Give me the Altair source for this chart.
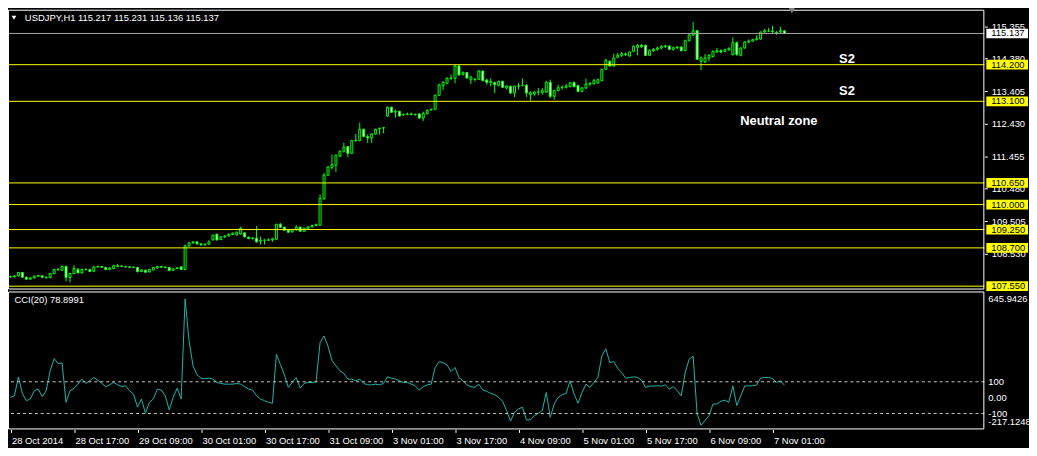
import altair as alt
import pandas as pd

SYMBOL = "USDJPY,H1"

OPEN = [107.84, 107.83, 107.86, 107.96, 107.82, 107.76, 107.80, 107.85, 107.86, 107.82,
        107.81, 107.93, 108.05, 108.03, 108.14, 107.81, 107.93, 108.05, 107.95, 108.05,
        108.05, 108.00, 108.13, 108.14, 108.11, 108.05, 108.08, 108.16, 108.14, 108.14,
        108.13, 108.12, 108.11, 107.99, 108.03, 107.98, 108.04, 108.10, 108.14, 108.12,
        108.11, 108.03, 108.08, 108.13, 108.05, 108.76, 108.85, 108.88, 108.82, 108.79,
        108.81, 108.94, 109.11, 108.95, 109.03, 109.06, 109.10, 109.09, 109.12, 109.15,
        109.02, 108.98, 108.99, 108.90, 108.93, 108.93, 108.94, 108.96, 109.41, 109.32,
        109.23, 109.18, 109.24, 109.32, 109.20, 109.29, 109.33, 109.37, 109.38, 110.17,
        110.88, 111.12, 111.18, 111.46, 111.60, 111.74, 111.54, 111.92, 111.92, 112.26,
        112.04, 112.00, 112.12, 112.28, 112.30, 112.66, 112.92, 112.78, 112.80, 112.70,
        112.71, 112.72, 112.71, 112.72, 112.60, 112.73, 112.84, 112.86, 113.28, 113.57,
        113.64, 113.79, 113.79, 114.16, 113.91, 113.96, 113.75, 113.75, 113.76, 114.01,
        113.74, 113.66, 113.66, 113.58, 113.70, 113.50, 113.55, 113.35, 113.55, 113.58,
        113.58, 113.30, 113.32, 113.38, 113.36, 113.38, 113.67, 113.25, 113.42, 113.51,
        113.52, 113.54, 113.66, 113.57, 113.40, 113.50, 113.62, 113.63, 113.65, 113.72,
        114.06, 114.30, 114.16, 114.42, 114.48, 114.52, 114.46, 114.60, 114.72, 114.78,
        114.78, 114.48, 114.62, 114.66, 114.70, 114.75, 114.76, 114.66, 114.71, 114.73,
        114.63, 114.92, 115.09, 115.22, 114.30, 114.28, 114.40, 114.44, 114.58, 114.62,
        114.60, 114.65, 114.50, 114.86, 114.48, 114.70, 114.88, 114.91, 114.95, 114.97,
        115.18, 115.21, 115.21, 115.17, 115.19, 115.217]

HIGH = [107.86, 107.88, 107.98, 107.98, 107.84, 107.82, 107.87, 107.89, 107.88, 107.84,
        107.95, 108.07, 108.10, 108.17, 108.17, 107.95, 108.18, 108.10, 108.08, 108.09,
        108.07, 108.15, 108.17, 108.16, 108.13, 108.12, 108.19, 108.22, 108.18, 108.16,
        108.15, 108.14, 108.13, 108.06, 108.05, 108.07, 108.13, 108.16, 108.16, 108.15,
        108.13, 108.09, 108.12, 108.15, 108.80, 108.88, 108.90, 108.90, 108.84, 108.83,
        108.93, 109.10, 109.13, 109.05, 109.08, 109.13, 109.16, 109.19, 109.34, 109.17,
        109.04, 109.02, 109.35, 109.04, 108.96, 108.99, 109.00, 109.42, 109.45, 109.34,
        109.25, 109.27, 109.38, 109.35, 109.31, 109.36, 109.40, 109.43, 110.30, 110.95,
        111.15, 111.50, 111.50, 111.62, 111.86, 111.76, 111.94, 112.12, 112.46, 112.28,
        112.10, 112.14, 112.28, 112.31, 112.33, 112.95, 112.94, 112.86, 112.82, 112.73,
        112.76, 112.76, 112.73, 112.74, 112.79, 112.86, 112.88, 113.30, 113.63, 113.70,
        113.82, 113.90, 114.20, 114.20, 114.00, 113.98, 113.86, 113.80, 114.04, 114.03,
        113.78, 113.79, 113.69, 113.72, 113.72, 113.58, 113.57, 113.57, 113.65, 113.78,
        113.62, 113.40, 113.40, 113.50, 113.50, 113.72, 113.75, 113.45, 113.60, 113.58,
        113.62, 113.68, 113.70, 113.60, 113.53, 113.78, 113.68, 113.78, 113.78, 114.08,
        114.38, 114.33, 114.53, 114.55, 114.58, 114.57, 114.60, 114.78, 114.82, 114.82,
        114.80, 114.66, 114.70, 114.74, 114.78, 114.80, 114.78, 114.74, 114.76, 114.75,
        114.95, 115.12, 115.48, 115.24, 114.45, 114.52, 114.52, 114.63, 114.70, 114.66,
        114.68, 114.72, 115.02, 114.90, 114.72, 114.91, 114.96, 114.98, 115.08, 115.20,
        115.27, 115.30, 115.37, 115.21, 115.34, 115.231]

LOW = [107.80, 107.81, 107.84, 107.80, 107.74, 107.74, 107.78, 107.83, 107.80, 107.77,
       107.79, 107.91, 108.01, 108.01, 107.70, 107.66, 107.91, 107.93, 107.93, 108.02,
       107.97, 107.98, 108.11, 108.10, 108.03, 108.03, 108.06, 108.12, 108.12, 108.11,
       108.10, 108.09, 107.96, 107.97, 107.95, 107.96, 108.02, 108.08, 108.10, 108.09,
       108.00, 108.01, 108.06, 108.03, 108.03, 108.74, 108.83, 108.80, 108.77, 108.77,
       108.79, 108.92, 108.92, 108.93, 109.00, 109.04, 109.08, 109.07, 109.10, 109.01,
       108.96, 108.95, 108.86, 108.80, 108.80, 108.90, 108.88, 108.94, 109.30, 109.21,
       109.15, 109.16, 109.22, 109.18, 109.18, 109.27, 109.31, 109.35, 109.36, 110.15,
       110.86, 111.05, 110.98, 111.42, 111.56, 111.43, 111.52, 111.88, 111.90, 112.02,
       111.85, 111.85, 112.10, 112.10, 112.14, 112.63, 112.75, 112.61, 112.64, 112.66,
       112.68, 112.68, 112.67, 112.56, 112.51, 112.70, 112.82, 112.84, 113.26, 113.44,
       113.62, 113.74, 113.64, 113.87, 113.87, 113.78, 113.62, 113.70, 113.74, 113.70,
       113.60, 113.55, 113.35, 113.55, 113.50, 113.46, 113.32, 113.22, 113.45, 113.55,
       113.23, 113.12, 113.27, 113.28, 113.30, 113.35, 113.20, 113.15, 113.40, 113.45,
       113.48, 113.52, 113.52, 113.37, 113.37, 113.47, 113.55, 113.60, 113.63, 113.70,
       114.04, 114.14, 114.14, 114.40, 114.43, 114.46, 114.44, 114.58, 114.48, 114.70,
       114.46, 114.46, 114.58, 114.62, 114.66, 114.70, 114.64, 114.62, 114.67, 114.60,
       114.60, 114.90, 115.05, 114.34, 114.04, 114.25, 114.30, 114.42, 114.55, 114.55,
       114.57, 114.62, 114.48, 114.47, 114.45, 114.68, 114.84, 114.89, 114.93, 114.95,
       115.16, 115.18, 115.15, 115.10, 115.15, 115.136]

CLOSE = [107.83, 107.86, 107.96, 107.82, 107.76, 107.80, 107.85, 107.87, 107.82, 107.81,
         107.93, 108.05, 108.05, 108.14, 107.81, 107.93, 108.08, 107.95, 108.05, 108.05,
         107.99, 108.13, 108.14, 108.12, 108.05, 108.10, 108.17, 108.14, 108.15, 108.13,
         108.12, 108.11, 107.99, 108.04, 107.97, 108.05, 108.11, 108.14, 108.12, 108.11,
         108.02, 108.07, 108.10, 108.05, 108.76, 108.85, 108.88, 108.82, 108.79, 108.81,
         108.88, 109.08, 108.94, 109.03, 109.06, 109.11, 109.14, 109.17, 109.29, 109.03,
         108.98, 109.00, 108.88, 108.93, 108.93, 108.94, 108.97, 109.41, 109.32, 109.23,
         109.17, 109.25, 109.32, 109.20, 109.29, 109.33, 109.37, 109.40, 110.18, 110.88,
         111.13, 111.20, 111.48, 111.60, 111.72, 111.54, 111.92, 111.93, 112.26, 112.04,
         112.00, 112.12, 112.26, 112.29, 112.31, 112.92, 112.77, 112.80, 112.66, 112.71,
         112.72, 112.71, 112.70, 112.60, 112.74, 112.82, 112.86, 113.28, 113.59, 113.67,
         113.79, 113.80, 114.16, 113.89, 113.96, 113.80, 113.83, 113.76, 114.01, 113.72,
         113.67, 113.70, 113.60, 113.70, 113.52, 113.56, 113.35, 113.55, 113.57, 113.58,
         113.35, 113.36, 113.38, 113.38, 113.42, 113.67, 113.25, 113.42, 113.51, 113.52,
         113.56, 113.66, 113.54, 113.40, 113.50, 113.62, 113.64, 113.72, 113.75, 114.06,
         114.33, 114.16, 114.40, 114.48, 114.53, 114.50, 114.58, 114.75, 114.78, 114.74,
         114.48, 114.62, 114.66, 114.70, 114.75, 114.76, 114.66, 114.71, 114.73, 114.62,
         114.92, 115.09, 115.22, 114.36, 114.40, 114.40, 114.48, 114.60, 114.62, 114.58,
         114.65, 114.69, 114.86, 114.50, 114.70, 114.88, 114.91, 114.95, 114.99, 115.18,
         115.22, 115.21, 115.19, 115.16, 115.22, 115.137]

CCI = [2, 12, 131, 27, -19, -8, 44, 54, 6, 44,
       169, 246, 215, 219, -29, 44, 58, 85, 117, 90,
       106, 127, 110, 90, 69, 81, 96, 81, 69, 75,
       44, 23, -60, -8, -98, -29, -8, 54, 48, 12,
       -77, 2, 60, -8, 621, 356, 200, 144, 123, 119,
       123, 117, 96, 90, 85, 85, 85, 90, 85, 69,
       54, 48, 12, -8, -19, -29, -35, 273, 210, 144,
       65, 96, 127, 60, 90, 96, 96, 100, 346, 388,
       325, 235, 200, 169, 152, 117, 117, 106, 117, 90,
       81, 81, 85, 81, 90, 131, 123, 117, 106, 96,
       96, 85, 75, 48, 69, 81, 85, 190, 227, 221,
       206, 165, 190, 127, 106, 81, 69, 65, 85, 48,
       40, 27, 19, 2, -23, -81, -148, -92, -71, -60,
       -140, -140, -113, -98, -81, 33, -123, -40, 2, 19,
       27, 106, 23, -35, 33, 85, 65, 96, 127, 262,
       308, 221, 227, 185, 158, 123, 127, 131, 127, 110,
       65, 73, 73, 75, 73, 81, 54, 69, 44, 12,
       158, 242, 262, -102, -175, -144, -113, -40, -40, -23,
       -15, -29, 75, -50, 12, 73, 75, 75, 79, 123,
       127, 127, 121, 96, 106, 78.8991]

DATE_TICKS = [0, 16, 32, 48, 64, 80, 96, 112, 128, 144, 160, 176, 192]
DATE_LABELS = ["28 Oct 2014", "28 Oct 17:00", "29 Oct 09:00", "30 Oct 01:00",
               "30 Oct 17:00", "31 Oct 09:00", "3 Nov 01:00", "3 Nov 17:00",
               "4 Nov 09:00", "5 Nov 01:00", "5 Nov 17:00", "6 Nov 09:00", "7 Nov 01:00"]

PRICE_TICKS = [115.355, 114.380, 113.405, 112.430, 111.455, 110.480, 109.505, 108.530]
LEVELS = [114.200, 113.100, 110.650, 110.000, 109.250, 108.700, 107.550]
LAST_PRICE = 115.137

CCI_LEVELS = [100, -100]
CCI_LABEL_VALUES = [100, 0, -100]
CCI_LABEL_TEXT = ["100", "0.00", "-100"]
CCI_MAX_LABEL = "645.9426"
CCI_MIN_LABEL = "-217.1248"

NOTE_TEXT = ["S2", "S2", "Neutral zone"]
NOTE_BAR = [210.75, 210.75, 193.6]
NOTE_PRICE = [114.37, 113.41, 112.51]

# ---------------------------------------------------------------- layout
FONT = "Liberation Sans"
LIME = "#00ff00"
W, H = 984, 423
MAIN_RANGE = [282, 0]
CCI_RANGE = [423, 284]

xscale = alt.Scale(domain=[-0.625, 245.375], nice=False, zero=False)
pscale = alt.Scale(domain=[107.45, 115.85], range=MAIN_RANGE, nice=False, zero=False)
cscale = alt.Scale(domain=[-200, 668.75], range=CCI_RANGE, nice=False, zero=False)

label_expr = ("[" + ",".join(repr(s) for s in DATE_LABELS) + "][indexof(["
              + ",".join(str(v) for v in DATE_TICKS) + "], datum.value)]")

xaxis = alt.Axis(values=DATE_TICKS, labelExpr=label_expr, orient="bottom", tickSize=3,
                 tickColor="white", tickWidth=1, labelColor="white", labelFont=FONT,
                 labelFontSize=9.5, labelAlign="left", labelBaseline="top", labelPadding=3,
                 labelOffset=1, domain=False, grid=False, title=None, labelOverlap=False,
                 labelFlush=False, labelBound=False)

paxis = alt.Axis(orient="right", values=PRICE_TICKS, format=".3f", tickSize=3,
                 tickColor="white", tickWidth=1, labelColor="white", labelFont=FONT,
                 labelFontSize=9.5, labelPadding=4, domain=False, grid=False, title=None,
                 labelOverlap=False, labelFlush=False, labelBound=False)

n = len(CLOSE)
df = pd.DataFrame({"i": list(range(n)), "o": OPEN, "h": HIGH, "l": LOW, "c": CLOSE})

X = alt.X("i:Q", scale=xscale, axis=xaxis)

wicks = alt.Chart(df).mark_rule(color=LIME, strokeWidth=1).encode(
    x=X, y=alt.Y("l:Q", scale=pscale, axis=paxis), y2="h:Q")

bodies = alt.Chart(df).transform_calculate(
    x0="datum.i - 0.25", x1="datum.i + 0.25"
).mark_rect(stroke=LIME, strokeWidth=1).encode(
    x=alt.X("x0:Q", scale=xscale, axis=xaxis), x2="x1:Q",
    y=alt.Y("o:Q", scale=pscale, axis=paxis), y2="c:Q",
    fill=alt.condition("datum.c >= datum.o", alt.value("black"), alt.value("white")))

levels = alt.Chart(pd.DataFrame({"v": LEVELS})).mark_rule(color="#ffff00", strokeWidth=1).encode(
    y=alt.Y("v:Q", scale=pscale, axis=paxis))

last_line = alt.Chart(pd.DataFrame({"v": [LAST_PRICE]})).mark_rule(color="#a8a8a8", strokeWidth=1).encode(
    y=alt.Y("v:Q", scale=pscale, axis=paxis))

box_df = pd.DataFrame({"v": LEVELS + [LAST_PRICE],
                       "bg": ["#ffff00"] * len(LEVELS) + ["#ffffff"]})
boxes = alt.Chart(box_df).transform_calculate(
    lo="datum.v - 0.145", hi="datum.v + 0.145"
).mark_rect().encode(
    x=alt.value(W + 2), x2=alt.value(W + 44),
    y=alt.Y("lo:Q", scale=pscale, axis=paxis), y2="hi:Q",
    fill=alt.Fill("bg:N", scale=None))

box_text = alt.Chart(box_df).mark_text(align="left", baseline="middle", font=FONT,
                                       fontSize=9.5, color="black").encode(
    x=alt.value(W + 7), y=alt.Y("v:Q", scale=pscale, axis=paxis),
    text=alt.Text("v:Q", format=".3f"))

notes = alt.Chart(pd.DataFrame({"t": NOTE_TEXT, "bar": NOTE_BAR, "p": NOTE_PRICE})).mark_text(
    font=FONT, fontSize=13, fontWeight="bold", color="white", align="center", baseline="middle"
).encode(x=alt.X("bar:Q", scale=xscale, axis=xaxis),
         y=alt.Y("p:Q", scale=pscale, axis=paxis), text="t:N")

price_group = alt.layer(wicks, bodies, levels, last_line, boxes, box_text, notes)

cci_df = pd.DataFrame({"i": list(range(n)), "v": CCI})
cci_line = alt.Chart(cci_df).mark_line(color="#20b2aa", strokeWidth=1).encode(
    x=X, y=alt.Y("v:Q", scale=cscale, axis=None))
cci_dash = alt.Chart(pd.DataFrame({"v": CCI_LEVELS})).mark_rule(
    color="#c8c8c8", strokeWidth=1, strokeDash=[3, 3]).encode(
    y=alt.Y("v:Q", scale=cscale, axis=None))
cci_lbl = alt.Chart(pd.DataFrame({"v": CCI_LABEL_VALUES, "t": CCI_LABEL_TEXT})).mark_text(
    align="left", baseline="middle", font=FONT, fontSize=9.5, color="white").encode(
    x=alt.value(W + 4), y=alt.Y("v:Q", scale=cscale, axis=None), text="t:N")
cci_group = alt.layer(cci_line, cci_dash, cci_lbl)

one = pd.DataFrame({"k": [0]})


def txt(s, x, y, **kw):
    base = dict(align="left", baseline="middle", font=FONT, fontSize=9.5, color="white")
    base.update(kw)
    return alt.Chart(pd.DataFrame({"t": [s]})).mark_text(**base).encode(
        x=alt.value(x), y=alt.value(y), text="t:N")


main_frame = alt.Chart(one).mark_rect(fillOpacity=0, stroke="white", strokeWidth=1).encode(
    x=alt.value(0.5), x2=alt.value(W - 0.5), y=alt.value(0.5), y2=alt.value(281.5))
cci_frame = alt.Chart(one).mark_rect(fillOpacity=0, stroke="white", strokeWidth=1).encode(
    x=alt.value(0.5), x2=alt.value(W - 0.5), y=alt.value(284.5), y2=alt.value(422.5))

title = f"{SYMBOL}  {OPEN[-1]:.3f} {HIGH[-1]:.3f} {LOW[-1]:.3f} {CLOSE[-1]:.3f}"
title_txt = txt(title, 17, 8.5)
tri = alt.Chart(one).mark_point(shape="triangle-down", filled=True, color="white", size=22,
                                opacity=1).encode(x=alt.value(6), y=alt.value(8))
shift_mark = alt.Chart(one).mark_point(shape="triangle-down", filled=True, color="#808080",
                                       size=40, opacity=1).encode(x=alt.value(790), y=alt.value(1))
cci_title = txt(f"CCI(20) {CCI[-1]:.4f}", 6.5, 293)
cci_max = txt(CCI_MAX_LABEL, W + 4, 292)
cci_min = txt(CCI_MIN_LABEL, W + 4, 416)

chart = alt.layer(
    price_group, cci_group, main_frame, cci_frame, title_txt, tri, shift_mark,
    cci_title, cci_max, cci_min
).resolve_scale(y="independent").properties(
    width=W, height=H, background="black",
    autosize=alt.AutoSizeParams(type="none"),
    padding={"left": 0, "top": 0, "right": 45, "bottom": 17},
).configure_view(stroke=None)

chart.save("out.html", embed_options={"renderer": "svg", "actions": False})
